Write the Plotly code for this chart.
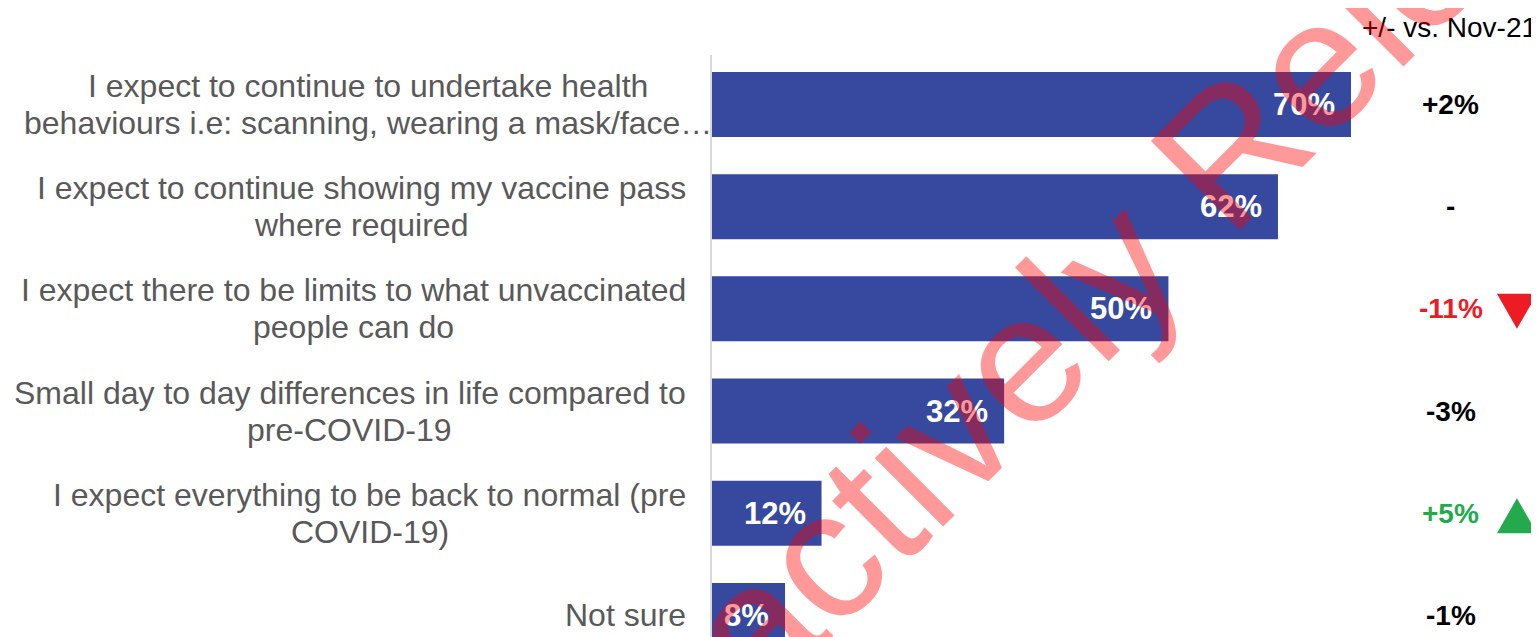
import plotly.graph_objects as go

# ---------------- data ----------------
categories = [
    "I expect to continue to undertake health<br>behaviours i.e: scanning, wearing a mask/face…",
    "I expect to continue showing my vaccine pass<br>where required",
    "I expect there to be limits to what unvaccinated<br>people can do",
    "Small day to day differences in life compared to<br>pre-COVID-19",
    "I expect everything to be back to normal (pre<br>COVID-19)",
    "Not sure",
]
values = [70, 62, 50, 32, 12, 8]
change_labels = ["+2%", "-", "-11%", "-3%", "+5%", "-1%"]
change_flags = ["none", "none", "down", "none", "up", "none"]
header_text = "+/- vs. Nov-21"
watermark_text = "Proactively Released"

# ---------------- styles ----------------
BAR = "#36499E"
LABEL = "#595959"
FLAG_COLOR = {"none": "#000000", "down": "#ED1C24", "up": "#22AA4C"}
FONT = "Liberation Sans, Arial, sans-serif"
LABEL_SIZE = 32
LINE_GAP = 37          # px between label lines
LABEL_RIGHT = -24      # px offset of label block right edge from the axis
FIRST_RIGHT = 2

# Arial / Liberation Sans advance widths (1/1000 em) for centring lines
W = {" ": 278, ",": 278, "-": 333, ".": 278, "/": 278, ":": 278, "(": 333, ")": 333,
     "1": 556, "9": 556, "C": 722, "D": 722, "I": 278, "N": 722, "O": 778, "S": 667,
     "V": 667, "a": 556, "b": 556, "c": 500, "d": 556, "e": 556, "f": 278, "g": 556,
     "h": 556, "i": 222, "j": 222, "k": 500, "l": 222, "m": 833, "n": 556, "o": 556,
     "p": 556, "q": 556, "r": 333, "s": 500, "t": 278, "u": 556, "v": 500, "w": 722,
     "x": 500, "y": 500, "…": 1000}


def text_w(s, size):
    return sum(W.get(ch, 556) for ch in s) * size / 1000.0


# plot geometry (px)
L_MARGIN, T_MARGIN, HEIGHT = 704, 47, 637
PLOT_W = 1539 - L_MARGIN
PLOT_H = HEIGHT - T_MARGIN
Y_RANGE = [5.289, -0.484]


def row_paper_y(idx):
    return 1 - (idx - Y_RANGE[1]) / (Y_RANGE[0] - Y_RANGE[1])


fig = go.Figure()
fig.add_trace(go.Bar(
    y=categories, x=values, orientation="h",
    marker=dict(color=BAR, line=dict(width=0)),
    hoverinfo="skip", showlegend=False,
))

ann = []
for i, (c, v) in enumerate(zip(categories, values)):
    lines = c.split("<br>")
    n = len(lines)
    widths = [text_w(l, LABEL_SIZE) for l in lines]
    maxw = max(widths)
    right = FIRST_RIGHT if i == 0 else LABEL_RIGHT
    for k, (l, w) in enumerate(zip(lines, widths)):
        ann.append(dict(
            x=0, xref="x", y=c, yref="y", text=l, showarrow=False,
            xanchor="right", yanchor="middle",
            xshift=right - (maxw - w) / 2,
            yshift=-(k - (n - 1) / 2) * LINE_GAP,
            font=dict(family=FONT, size=LABEL_SIZE, color=LABEL),
        ))
    # value label inside bar end
    ann.append(dict(
        x=v, xref="x", y=c, yref="y", text=f"{v}%", showarrow=False,
        xanchor="right", yanchor="middle", xshift=-14,
        font=dict(family=FONT, size=31, color="white", weight="bold"),
    ))

# change column
CHG_X = 0.885
TRI_X, TRI_W, TRI_H = 0.964, 40 / PLOT_W, 35 / PLOT_H
shapes = []
for idx, (c, lab, flag) in enumerate(zip(categories, change_labels, change_flags)):
    ann.append(dict(
        x=CHG_X, xref="paper", y=c, yref="y", text=lab, showarrow=False,
        xanchor="center", yanchor="middle",
        font=dict(family=FONT, size=28, color=FLAG_COLOR[flag], weight="bold"),
    ))
    if flag in ("down", "up"):
        yc = row_paper_y(idx) - 2.5 / PLOT_H
        top, bot = yc + TRI_H / 2, yc - TRI_H / 2
        xl, xr = TRI_X - TRI_W / 2, TRI_X + TRI_W / 2
        if flag == "down":
            path = f"M {xl},{top} L {xr},{top} L {TRI_X},{bot} Z"
        else:
            path = f"M {xl},{bot} L {xr},{bot} L {TRI_X},{top} Z"
        shapes.append(dict(type="path", xref="paper", yref="paper", path=path,
                           fillcolor=FLAG_COLOR[flag], line=dict(width=0)))

# header
ann.append(dict(
    x=0.8832, xref="paper", y=1.0458, yref="paper", text=header_text,
    showarrow=False, xanchor="center", yanchor="middle",
    font=dict(family=FONT, size=28, color="#000000"),
))

# watermark
ann.append(dict(
    x=0.493, xref="paper", y=0.658, yref="paper", text=watermark_text,
    showarrow=False, xanchor="center", yanchor="middle", textangle=-45,
    font=dict(family=FONT, size=183, color="rgba(255,0,0,0.4)"),
))

fig.update_layout(
    width=1539, height=HEIGHT,
    margin=dict(l=L_MARGIN, r=0, t=T_MARGIN, b=0),
    paper_bgcolor="white", plot_bgcolor="white",
    bargap=0.364,
    xaxis=dict(visible=False, range=[0, 91.47], showgrid=False, zeroline=False),
    yaxis=dict(showticklabels=False, showgrid=False, zeroline=False, ticks="",
               showline=True, linecolor="#D9D9D9", linewidth=2,
               range=Y_RANGE, type="category"),
    annotations=ann,
    shapes=shapes,
    showlegend=False,
)

fig.write_html("out.html")
